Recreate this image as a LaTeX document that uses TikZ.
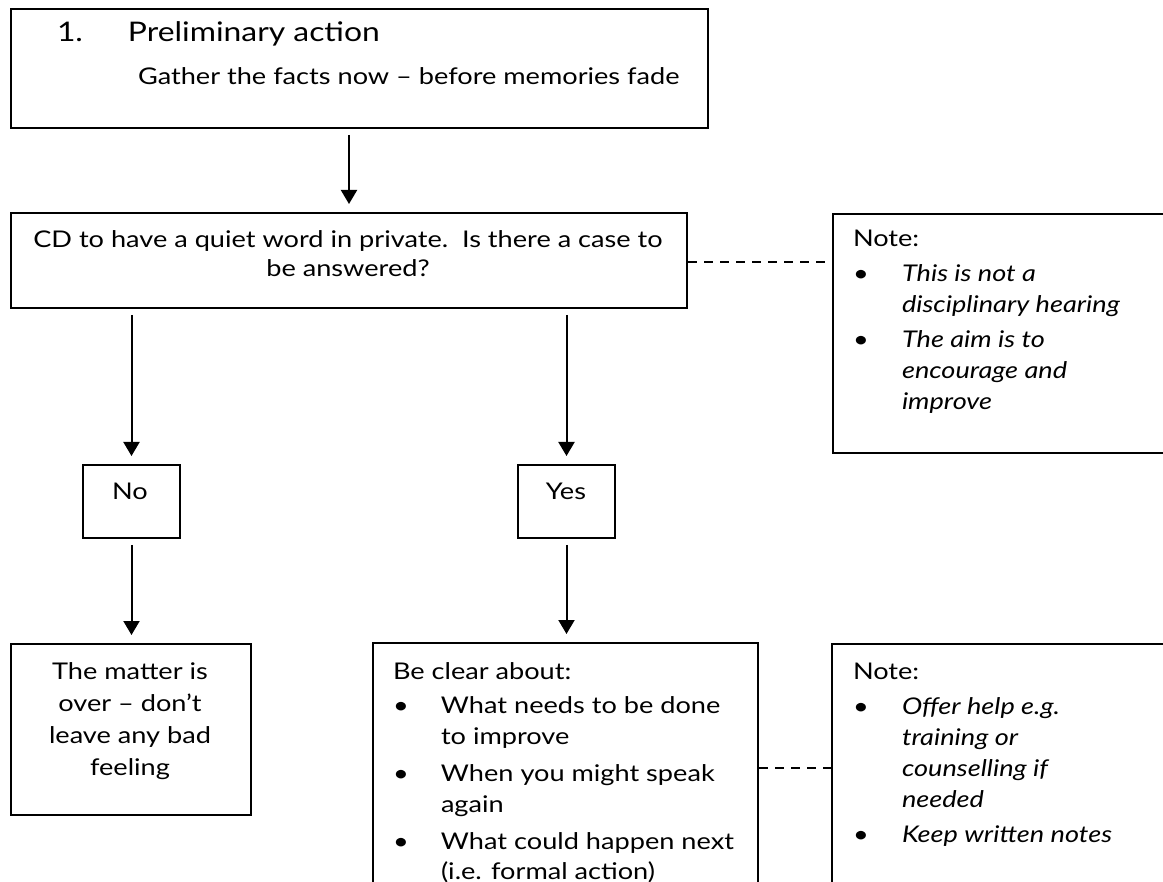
\documentclass[tikz,border=0pt]{standalone}
\usepackage{fontspec}
\setmainfont{Lato}[FakeStretch=1.18]
\usetikzlibrary{arrows.meta}
\begin{document}
\begin{tikzpicture}[x=1pt,y=-1pt,
  box/.style={draw,line width=2pt,inner sep=0pt,anchor=north west},
  txt/.style={inner sep=0pt,outer sep=0pt,font=\fontsize{23}{31}\selectfont},
  arr/.style={line width=2pt,-{Triangle[length=14pt,width=16pt]},shorten <=6pt,shorten >=8pt},
  dashline/.style={line width=1.5pt,dash pattern=on 9pt off 7pt}]
\useasboundingbox (0,0) rectangle (1163,882);
\fill[white] (0,0) rectangle (1163,882);
\clip (0,0) rectangle (1163,882);
% boxes
\node[box,minimum width=697pt,minimum height=119pt] (prelim) at (10,8) {};
\node[box,minimum width=676pt,minimum height=95pt] (ask) at (10,212) {};
\node[box,minimum width=400pt,minimum height=239pt] (note1) at (832,213) {};
\node[box,minimum width=97pt,minimum height=73pt] (no) at (82,464) {};
\node[box,minimum width=97pt,minimum height=73pt] (yes) at (517,464) {};
\node[box,minimum width=240pt,minimum height=171pt] (over) at (10,643) {};
\node[box,minimum width=385pt,minimum height=300pt] (clear) at (372,642) {};
\node[box,minimum width=400pt,minimum height=300pt] (note2) at (831,643) {};
% texts
\node[txt,anchor=base west,font=\fontsize{27}{32}\selectfont] (ptitle) at (57,42) {\makebox[71pt][l]{1.}Preliminary action};
\node[txt,anchor=base west] (psub) at (138,85) {Gather the facts now – before memories fade};
\node[txt,anchor=base] (asktext) at (348,248) {\begin{tabular}[t]{@{}c@{}}CD to have a quiet word in private.\ \ Is there a case to\\[-2pt] be answered?\end{tabular}};
\node[txt,anchor=base west] (note1text) at (853,247) {\begin{tabular}[t]{@{}p{49pt}@{}l@{}}
\multicolumn{2}{@{}l@{}}{Note:}\\[4pt]
•&\itshape This is not a\\
&\itshape disciplinary hearing\\[4pt]
•&\itshape The aim is to\\
&\itshape encourage and\\
&\itshape improve
\end{tabular}};
\node[txt,anchor=base] (notext) at (130,500) {No};
\node[txt,anchor=base] (yestext) at (566,500) {Yes};
\node[txt,anchor=base] (overtext) at (130,679) {\begin{tabular}[t]{@{}c@{}}The matter is\\[1pt] over – don’t\\[1pt] leave any bad\\[1pt] feeling\end{tabular}};
\node[txt,anchor=base west] (cleartext) at (393,679) {\begin{tabular}[t]{@{}p{48pt}@{}l@{}}
\multicolumn{2}{@{}l@{}}{Be clear about:}\\[3pt]
•&What needs to be done\\
&to improve\\[6pt]
•&When you might speak\\
&again\\[6pt]
•&What could happen next\\
&(i.e. formal action)
\end{tabular}};
\node[txt,anchor=base west] (note2text) at (853,679) {\begin{tabular}[t]{@{}p{49pt}@{}l@{}}
\multicolumn{2}{@{}l@{}}{Note:}\\[4pt]
•&\itshape Offer help e.g.\\
&\itshape training or\\
&\itshape counselling if\\
&\itshape needed\\[4pt]
•&\itshape Keep written notes
\end{tabular}};
% connectors
\draw[arr] (prelim.south -| ask.north) -- (ask.north);
\draw[arr] (ask.south -| no.north) -- (no.north);
\draw[arr] (ask.south -| yes.north) -- (yes.north);
\draw[arr] (no.south) -- (over.north -| no.south);
\draw[arr] (yes.south) -- (clear.north -| yes.south);
\coordinate (d1) at (760,262);
\coordinate (d2) at (790,768);
\draw[dashline] (ask.east |- d1) -- (note1.west |- d1);
\draw[dashline] (clear.east |- d2) -- (note2.west |- d2);
\end{tikzpicture}
\end{document}
